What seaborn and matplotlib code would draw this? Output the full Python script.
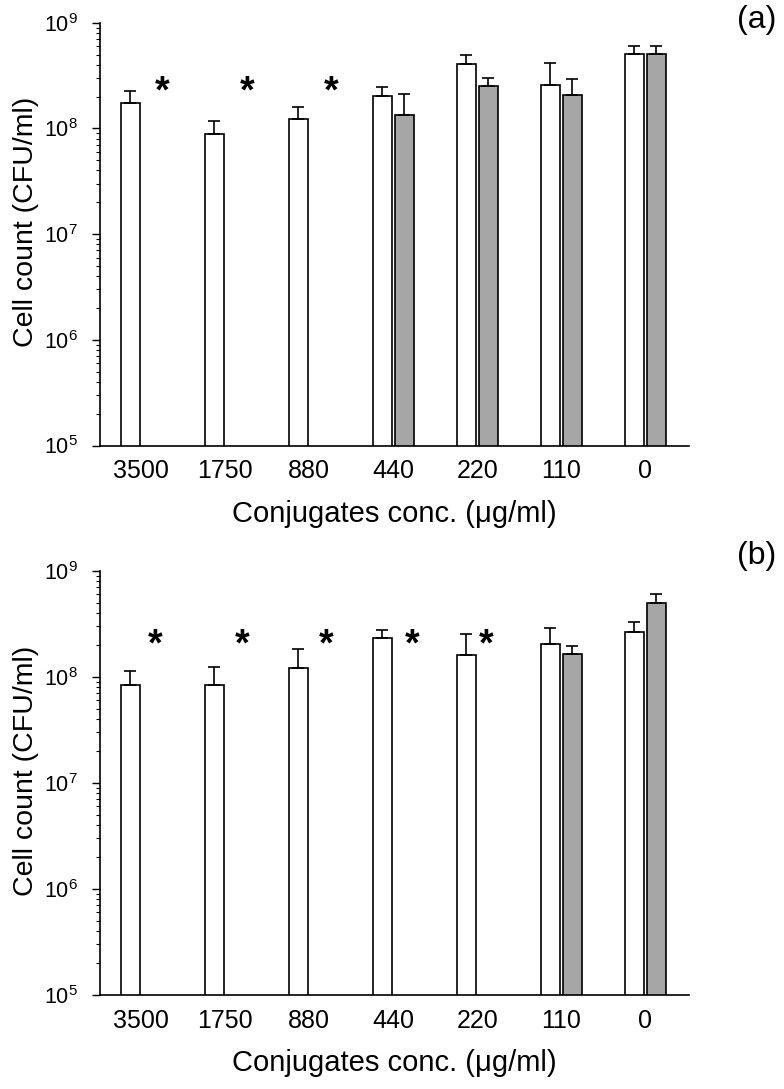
import numpy as np
import pandas as pd
import matplotlib
matplotlib.use("Agg")
import matplotlib.pyplot as plt
from matplotlib import font_manager
import seaborn as sns

# ---------------- data ----------------
categories = ["3500", "1750", "880", "440", "220", "110", "0"]
series = ["white", "gray"]

# panel (a)
a_white = [1.73e8, 8.8e7, 1.22e8, 2.01e8, 4.04e8, 2.56e8, 5.06e8]
a_white_err = [2.24e8, 1.18e8, 1.60e8, 2.48e8, 4.90e8, 4.16e8, 6.05e8]
a_gray = [np.nan, np.nan, np.nan, 1.35e8, 2.52e8, 2.07e8, 5.06e8]
a_gray_err = [np.nan, np.nan, np.nan, 2.11e8, 3.02e8, 2.93e8, 6.05e8]
a_star = [2.2e8, 2.2e8, 2.2e8, np.nan, np.nan, np.nan, np.nan]
a_star_dx = [0.25, 0.26, 0.26, 0, 0, 0, 0]

# panel (b)
b_white = [8.35e7, 8.35e7, 1.21e8, 2.30e8, 1.60e8, 2.02e8, 2.66e8]
b_white_err = [1.14e8, 1.23e8, 1.81e8, 2.76e8, 2.55e8, 2.88e8, 3.26e8]
b_gray = [np.nan, np.nan, np.nan, np.nan, np.nan, 1.65e8, 4.96e8]
b_gray_err = [np.nan, np.nan, np.nan, np.nan, np.nan, 1.94e8, 5.98e8]
b_star = [1.95e8, 1.95e8, 1.95e8, 1.95e8, 1.95e8, np.nan, np.nan]
b_star_dx = [0.17, 0.20, 0.20, 0.23, 0.11, 0, 0]

panel_labels = ["(a)", "(b)"]
xlabel = "Conjugates conc. (\u03bcg/ml)"
ylabel = "Cell count (CFU/ml)"

# ---------------- style ----------------
sns.set_theme(style="ticks")
names = {f.name for f in font_manager.fontManager.ttflist}
main_font = "Liberation Sans" if "Liberation Sans" in names else "DejaVu Sans"
plt.rcParams["font.family"] = [main_font, "DejaVu Sans"]
plt.rcParams["mathtext.fontset"] = "custom"
plt.rcParams["mathtext.rm"] = main_font
plt.rcParams["mathtext.it"] = main_font
plt.rcParams["mathtext.bf"] = main_font
for k in ["text.color", "axes.labelcolor", "xtick.color", "ytick.color", "axes.edgecolor"]:
    plt.rcParams[k] = "black"

fig = plt.figure(figsize=(7.84, 10.89), dpi=100)
W, H = 784, 1089
axes_px = [(100, 22.7, 689, 445.5), (100, 570.7, 689, 994.7)]
label_y_px = [20, 556]

panels = [
    (a_white, a_white_err, a_gray, a_gray_err, a_star, a_star_dx),
    (b_white, b_white_err, b_gray, b_gray_err, b_star, b_star_dx),
]

for idx, ((wv, we, gv, ge, st, sdx), (l, t, r, b)) in enumerate(zip(panels, axes_px)):
    ax = fig.add_axes([l / W, 1 - b / H, (r - l) / W, (b - t) / H])
    df = pd.DataFrame({
        "conc": categories * 2,
        "series": ["white"] * len(categories) + ["gray"] * len(categories),
        "count": list(wv) + list(gv),
        "upper": list(we) + list(ge),
    })
    df = df.dropna(subset=["count"]).reset_index(drop=True)
    sns.barplot(data=df, x="conc", y="count", hue="series", order=categories,
                hue_order=series, palette=["white", "#a6a6a6"], edgecolor="black",
                linewidth=1.2, width=0.524, gap=0.15, errorbar=None, legend=False,
                ax=ax, saturation=1)
    ax.set_yscale("log")
    # error bars (upper only)
    for cont, s in zip(ax.containers, series):
        sub = df[df["series"] == s].set_index("conc").reindex(categories).dropna(subset=["count"])
        bars = [p for p in cont.patches if np.isfinite(p.get_height()) and p.get_height() > 0]
        for p, (_, row) in zip(bars, sub.iterrows()):
            xc = p.get_x() + p.get_width() / 2
            val = row["count"]
            ax.errorbar([xc], [val], yerr=[[0], [row["upper"] - val]], fmt="none",
                        ecolor="black", elinewidth=1.2, capsize=4, capthick=1.2, zorder=1)
    # asterisks
    for i, (y, dx) in enumerate(zip(st, sdx)):
        if np.isfinite(y):
            ax.text(i + dx, y, "*", ha="center", va="center", fontsize=27,
                    fontweight="bold", color="black")
    ax.set_ylim(1e5, 1e9)
    ax.set_xlim(-0.49, 6.52)
    sns.despine(ax=ax)
    ax.spines["left"].set_linewidth(1.2)
    ax.spines["bottom"].set_linewidth(1.2)
    ax.tick_params(axis="x", length=0, pad=10, labelsize=18)
    ax.tick_params(axis="y", which="major", length=6, width=1, labelsize=15.5,
                   direction="out", pad=10)
    ax.tick_params(axis="y", which="minor", length=3, width=0.8, direction="out")
    ax.set_xlabel(xlabel, fontsize=21, labelpad=12)
    ax.set_ylabel(ylabel, fontsize=20.5)
    ax.yaxis.set_label_coords(-0.104, 0.529)
    fig.text(757 / W, 1 - label_y_px[idx] / H, panel_labels[idx], fontsize=23,
             ha="center", va="center")

fig.savefig("out.png", dpi=100)
